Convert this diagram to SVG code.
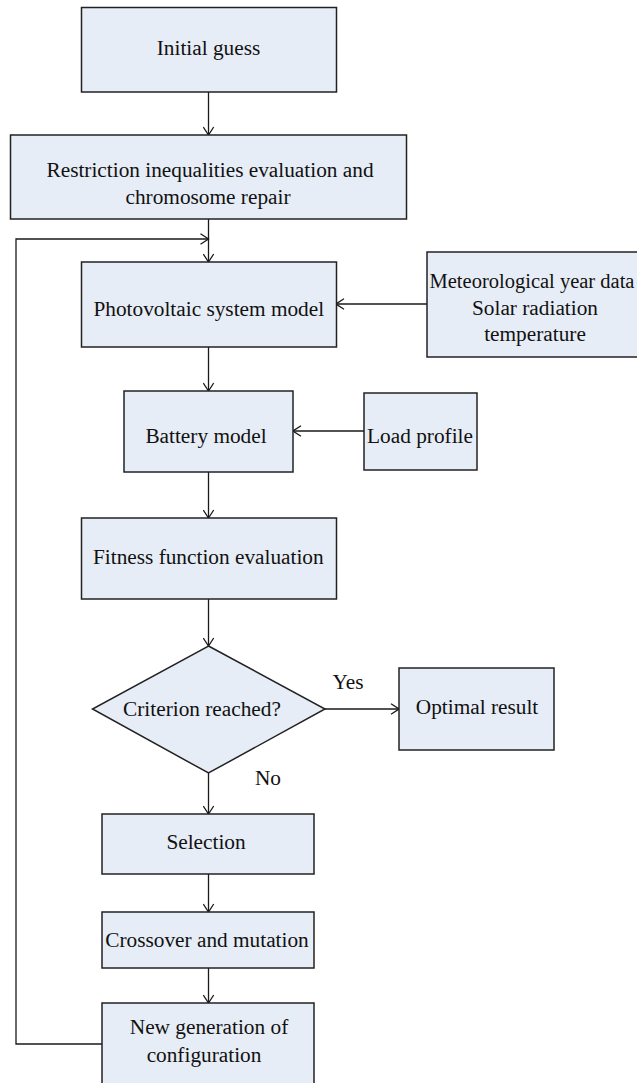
<svg xmlns="http://www.w3.org/2000/svg" width="637" height="1083" viewBox="0 0 637 1083">
<style>
.box{fill:#e7edf6;stroke:#222;stroke-width:1.5}
.lbl{font-family:"Liberation Serif","Times New Roman",serif;font-size:21.3px;fill:#111;text-anchor:middle}
.con{fill:none;stroke:#1a1a1a;stroke-width:1.3}
</style>
<defs>
<marker id="arr" viewBox="0 0 10 12" refX="9" refY="6" markerWidth="10" markerHeight="12" markerUnits="userSpaceOnUse" orient="auto">
<path d="M1,0.8 L9,6 L1,11.2" fill="none" stroke="#1a1a1a" stroke-width="1.3"/>
</marker>
</defs>
<rect width="637" height="1083" fill="#fff"/>
<g id="connectors">
<line class="con" x1="208.5" y1="92" x2="208.5" y2="135" marker-end="url(#arr)"/>
<line class="con" x1="208.5" y1="219" x2="208.5" y2="262" marker-end="url(#arr)"/>
<polyline class="con" points="102,1044 16,1044 16,239 208.5,239" marker-end="url(#arr)"/>
<line class="con" x1="427" y1="304" x2="336" y2="304" marker-end="url(#arr)"/>
<line class="con" x1="208.5" y1="347" x2="208.5" y2="391" marker-end="url(#arr)"/>
<line class="con" x1="364" y1="431" x2="293" y2="431" marker-end="url(#arr)"/>
<line class="con" x1="208.5" y1="472" x2="208.5" y2="518" marker-end="url(#arr)"/>
<line class="con" x1="208.5" y1="599" x2="208.5" y2="646" marker-end="url(#arr)"/>
<line class="con" x1="325" y1="709" x2="399" y2="709" marker-end="url(#arr)"/>
<line class="con" x1="208.5" y1="773" x2="208.5" y2="814" marker-end="url(#arr)"/>
<line class="con" x1="208.5" y1="874" x2="208.5" y2="912" marker-end="url(#arr)"/>
<line class="con" x1="208.5" y1="968" x2="208.5" y2="1003" marker-end="url(#arr)"/>
<text class="lbl" x="348" y="689">Yes</text>
<text class="lbl" x="268" y="785">No</text>
</g>
<g id="initial">
<rect class="box" x="81.5" y="7.5" width="255" height="84.5"/>
<text class="lbl" x="208.5" y="55">Initial guess</text>
</g>
<g id="restriction">
<rect class="box" x="10.5" y="135" width="396" height="84"/>
<text class="lbl" x="210" y="177">Restriction inequalities evaluation and</text>
<text class="lbl" x="208" y="204">chromosome repair</text>
</g>
<g id="pv">
<rect class="box" x="81.5" y="262" width="255" height="85"/>
<text class="lbl" x="208.8" y="316">Photovoltaic system model</text>
</g>
<g id="meteo">
<rect class="box" x="427" y="252" width="220" height="105"/>
<text class="lbl" x="532" y="288" style="font-size:20.5px">Meteorological year data</text>
<text class="lbl" x="535" y="315">Solar radiation</text>
<text class="lbl" x="535" y="341">temperature</text>
</g>
<g id="battery">
<rect class="box" x="124" y="391" width="169" height="81"/>
<text class="lbl" x="206" y="443">Battery model</text>
</g>
<g id="load">
<rect class="box" x="364" y="393" width="113" height="77"/>
<text class="lbl" x="420" y="443">Load profile</text>
</g>
<g id="fitness">
<rect class="box" x="81.5" y="518" width="255" height="81"/>
<text class="lbl" x="208.3" y="564">Fitness function evaluation</text>
</g>
<g id="criterion">
<polygon class="box" points="208.5,646 325,709 208.5,773 92.5,709"/>
<text class="lbl" x="202" y="716">Criterion reached?</text>
</g>
<g id="optimal">
<rect class="box" x="399" y="668" width="155" height="82"/>
<text class="lbl" x="477" y="714">Optimal result</text>
</g>
<g id="selection">
<rect class="box" x="102" y="814" width="212" height="60"/>
<text class="lbl" x="206" y="849">Selection</text>
</g>
<g id="crossover">
<rect class="box" x="102" y="912" width="212" height="56"/>
<text class="lbl" x="207" y="947">Crossover and mutation</text>
</g>
<g id="newgen">
<rect class="box" x="102" y="1003" width="212" height="90"/>
<text class="lbl" x="209" y="1034">New generation of</text>
<text class="lbl" x="204" y="1062">configuration</text>
</g>
</svg>
